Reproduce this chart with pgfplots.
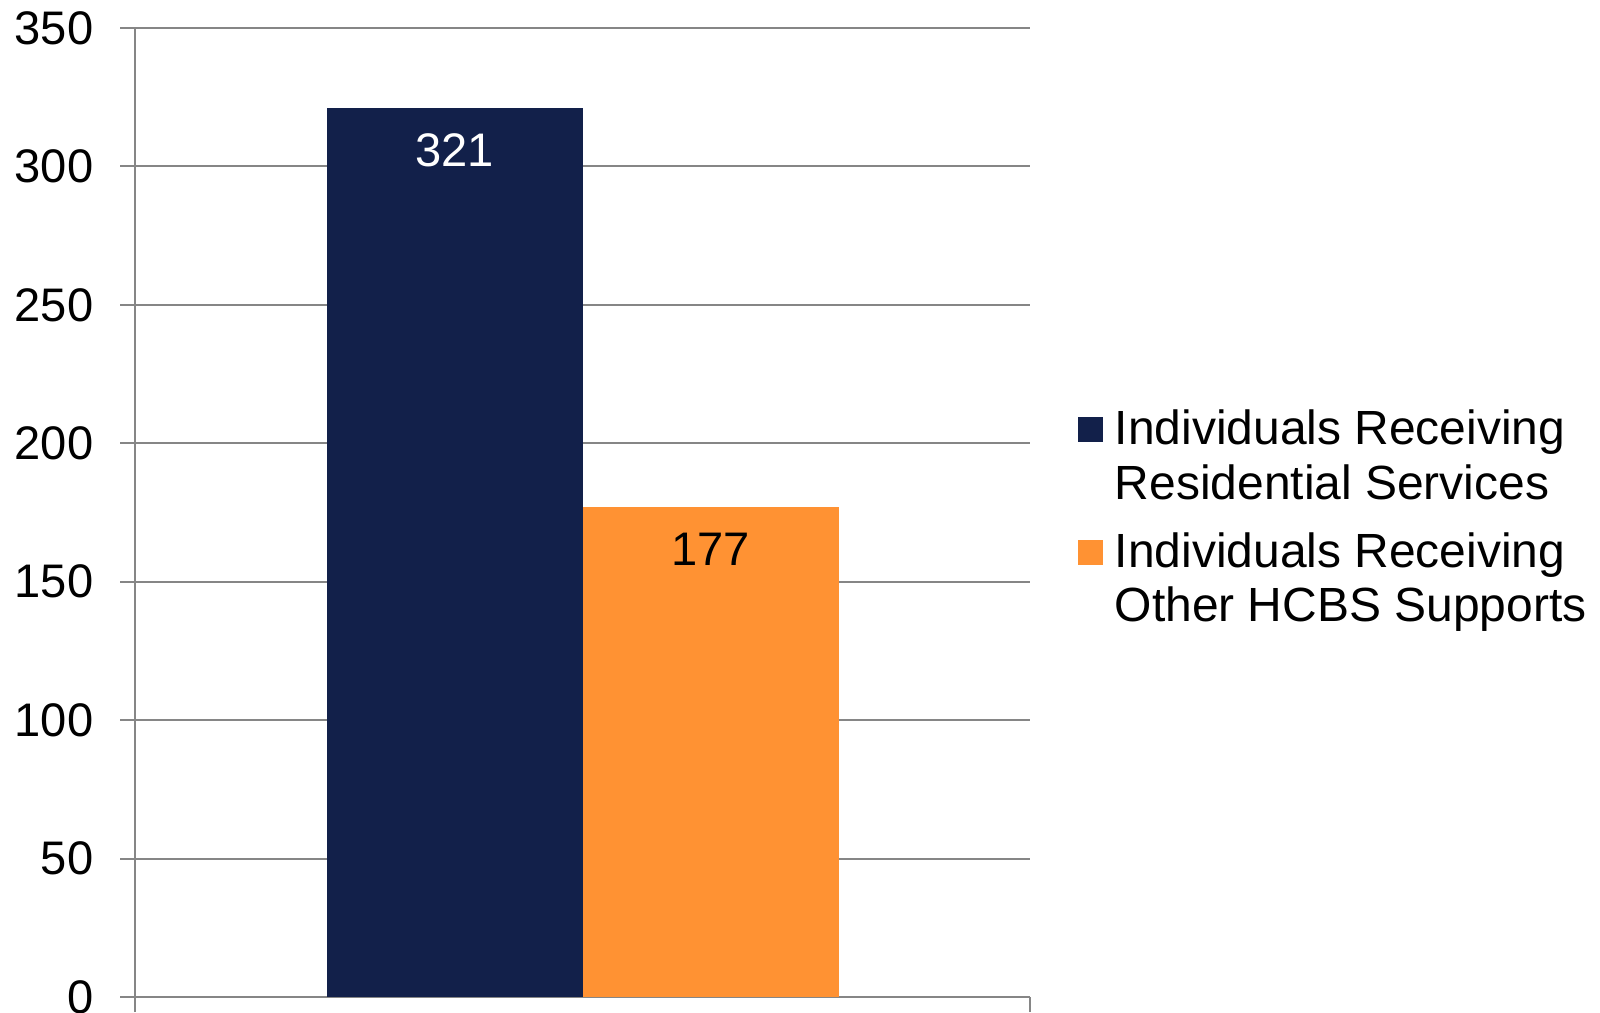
\documentclass[border=0pt]{standalone}
\usepackage{pgfplots}
\pgfplotsset{compat=1.18}
\usepackage{fontspec}
\setmainfont{Liberation Sans}
\definecolor{navy}{RGB}{18,32,74}
\definecolor{orng}{RGB}{255,146,51}
\definecolor{gridgray}{RGB}{134,134,134}
\begin{document}
\begin{tikzpicture}
\begin{axis}[
  at={(0,0)}, anchor=south west,
  scale only axis, width=8.95cm, height=9.69cm,
  ybar=0pt, bar width=2.56cm,
  xmin=-0.5, xmax=0.5, ymin=0, ymax=350,
  xtick={-0.5,0.5}, xticklabels={},
  ytick={0,50,100,150,200,250,300,350},
  axis lines*=left,
  axis line style={gridgray, line width=0.02cm},
  tick style={gridgray, line width=0.02cm},
  tick align=outside, major tick length=0.15cm,
  ymajorgrids, grid style={gridgray, line width=0.02cm},
  /pgf/number format/assume math mode=true,
  yticklabel style={font=\fontsize{13.4}{16}\selectfont, inner sep=0pt, xshift=-0.26cm},
  nodes near coords,
  every node near coord/.append style={anchor=north, inner sep=0pt, yshift=-0.25cm, font=\fontsize{13.4}{16}\selectfont},
  legend image code/.code={\fill[#1] (0cm,0.57cm) rectangle (0.25cm,0.82cm);},
  legend style={draw=none, fill=none, at={(1.0525,0.6068)}, anchor=north west,
    inner sep=0pt, font=\fontsize{13.65}{15.6}\selectfont,
    nodes={inner sep=0pt, text depth={}},
    cells={anchor=base west, align=left},
    row sep=0.325cm, column sep=0.12cm},
]
\addplot[fill=navy, draw=none, every node near coord/.append style={text=white}] coordinates {(0,321)};
\addplot[fill=orng, draw=none, every node near coord/.append style={text=black}] coordinates {(0,177)};
\addlegendentry{Individuals Receiving\\Residential Services}
\addlegendentry{Individuals Receiving\\Other HCBS Supports}
\end{axis}
\pgfresetboundingbox
\useasboundingbox (-1.35,-0.15) rectangle (14.65,9.97);
\end{tikzpicture}
\end{document}
